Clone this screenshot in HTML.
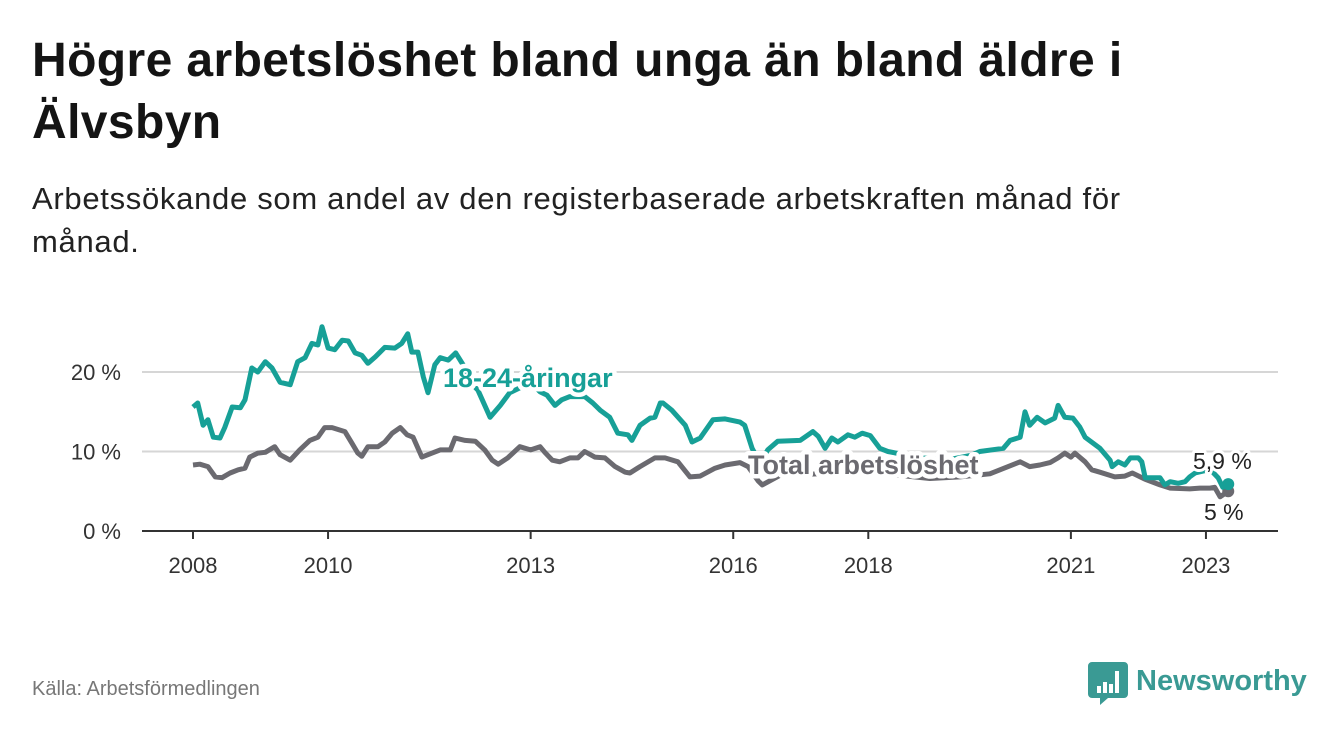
<!DOCTYPE html>
<html><head><meta charset="utf-8"><style>
body{margin:0;width:1340px;height:734px;background:#fff;font-family:"Liberation Sans",sans-serif;overflow:hidden;position:relative}
#title{position:absolute;left:32px;top:30px;width:1200px;font-size:48px;letter-spacing:0.4px;font-weight:bold;line-height:62px;color:#141414;margin:0}
#sub{position:absolute;left:32px;top:177px;width:1250px;font-size:31px;letter-spacing:0.7px;line-height:43px;color:#222;margin:0}
#src{position:absolute;left:32px;top:678px;font-size:20px;color:#777}
svg{position:absolute;left:0;top:0}
</style></head><body>
<h1 id="title">Högre arbetslöshet bland unga än bland äldre i<br>Älvsbyn</h1>
<p id="sub">Arbetssökande som andel av den registerbaserade arbetskraften månad för<br>månad.</p>
<div id="src">Källa: Arbetsförmedlingen</div>
<svg id="chart" width="1340" height="734"></svg>
<script>
const youthDates=[2008.00,2008.07,2008.15,2008.22,2008.30,2008.40,2008.47,2008.58,2008.70,2008.77,2008.87,2008.96,2009.07,2009.17,2009.29,2009.44,2009.55,2009.66,2009.76,2009.85,2009.91,2010.00,2010.10,2010.21,2010.30,2010.40,2010.50,2010.59,2010.70,2010.84,2010.99,2011.09,2011.18,2011.24,2011.33,2011.41,2011.48,2011.58,2011.66,2011.78,2011.89,2012.03,2012.13,2012.22,2012.40,2012.55,2012.69,2012.84,2013.02,2013.14,2013.24,2013.36,2013.46,2013.58,2013.80,2013.92,2014.03,2014.17,2014.29,2014.44,2014.50,2014.62,2014.77,2014.84,2014.92,2014.96,2015.09,2015.29,2015.39,2015.51,2015.70,2015.88,2016.10,2016.17,2016.28,2016.40,2016.51,2016.66,2016.99,2017.06,2017.18,2017.26,2017.36,2017.46,2017.55,2017.70,2017.80,2017.91,2018.03,2018.17,2018.29,2018.77,2019.21,2019.51,2019.65,2020.00,2020.10,2020.25,2020.32,2020.39,2020.50,2020.62,2020.76,2020.81,2020.91,2021.03,2021.13,2021.21,2021.43,2021.58,2021.61,2021.70,2021.80,2021.88,2022.00,2022.05,2022.10,2022.25,2022.32,2022.39,2022.47,2022.59,2022.69,2022.76,2022.84,2022.99,2023.09,2023.18,2023.25,2023.33];
const youthValues=[15.6,16.1,13.3,14,11.8,11.7,13,15.6,15.5,16.5,20.5,20,21.3,20.5,18.7,18.4,21.3,21.8,23.6,23.4,25.7,23,22.8,24,23.9,22.4,22.1,21.1,21.9,23.1,23,23.6,24.8,22.5,22.5,19.4,17.4,20.9,21.8,21.5,22.4,20.5,18.5,17.7,14.3,15.8,17.4,18,18.5,17.5,17.1,15.8,16.5,16.9,16.9,16.1,15.2,14.3,12.3,12.1,11.4,13.3,14.2,14.3,16.1,16.1,15.2,13.3,11.2,11.7,14,14.1,13.7,13.3,10.4,8.5,10.2,11.3,11.4,11.8,12.5,11.9,10.4,11.7,11.2,12.1,11.8,12.3,12,10.4,10,9.2,9,9.5,10,10.4,11.4,11.8,15,13.3,14.3,13.6,14.2,15.8,14.3,14.2,13.1,11.8,10.4,8.9,8.1,8.7,8.3,9.2,9.2,8.7,6.7,6.7,6.7,5.8,6.2,6,6.2,6.8,7.3,7.6,7.5,6.7,5.5,5.9];
const totalDates=[2008.00,2008.10,2008.22,2008.33,2008.43,2008.55,2008.67,2008.77,2008.84,2008.96,2009.07,2009.21,2009.29,2009.44,2009.58,2009.73,2009.85,2009.95,2010.06,2010.25,2010.35,2010.44,2010.50,2010.59,2010.74,2010.84,2010.95,2011.07,2011.17,2011.26,2011.39,2011.54,2011.66,2011.81,2011.88,2012.03,2012.18,2012.32,2012.43,2012.52,2012.66,2012.84,2013.00,2013.14,2013.21,2013.32,2013.43,2013.58,2013.70,2013.80,2013.95,2014.10,2014.25,2014.40,2014.47,2014.62,2014.84,2014.99,2015.18,2015.36,2015.51,2015.73,2015.88,2016.10,2016.22,2016.37,2016.43,2016.69,2017.28,2017.88,2018.47,2018.91,2019.36,2019.80,2020.25,2020.39,2020.54,2020.69,2020.81,2020.91,2021.00,2021.06,2021.21,2021.31,2021.43,2021.65,2021.80,2021.91,2022.10,2022.32,2022.47,2022.76,2022.91,2023.06,2023.13,2023.21,2023.33];
const totalValues=[8.3,8.4,8.1,6.8,6.7,7.3,7.7,7.9,9.3,9.8,9.9,10.6,9.6,8.9,10.2,11.4,11.8,13,13,12.5,11.1,9.8,9.4,10.6,10.6,11.2,12.3,13,12.1,11.8,9.3,9.8,10.2,10.2,11.7,11.4,11.3,10.2,8.9,8.4,9.2,10.6,10.2,10.6,9.9,8.9,8.7,9.2,9.2,10,9.3,9.2,8.1,7.4,7.3,8.1,9.2,9.2,8.7,6.8,6.9,7.9,8.3,8.6,8.1,6.3,5.8,7,7.2,7.3,7,6.6,6.8,7.2,8.7,8.1,8.3,8.6,9.2,9.8,9.3,9.8,8.7,7.7,7.4,6.8,6.9,7.3,6.5,5.8,5.4,5.3,5.4,5.4,5.5,4.3,5];
const yTicks=[0,10,20];
const yTickLabels=["0 %","10 %","20 %"];
const xTicks=[2008,2010,2013,2016,2018,2021,2023];
const svg=document.getElementById('chart');
const NS='http://www.w3.org/2000/svg';
const X=d=>193+(d-2008)*67.53;
const Y=v=>531-v*7.95;
function el(t,a,p){const e=document.createElementNS(NS,t);for(const k in a)e.setAttribute(k,a[k]);(p||svg).appendChild(e);return e;}
yTicks.forEach((v,i)=>{
  if(v>0){const g=el('line',{x1:142,x2:1278,y1:Y(v),y2:Y(v),stroke:'#d6d6d6','stroke-width':2});
  
  }
  const t=el('text',{x:121,y:Y(v)+8,'text-anchor':'end','font-size':22,fill:'#333'});
  t.textContent=yTickLabels[i];
  
  
});
const ax=el('line',{x1:142,x2:1278,y1:531,y2:531,stroke:'#333','stroke-width':2});


xTicks.forEach(y=>{
  const tk=el('line',{x1:X(y),x2:X(y),y1:531,y2:539,stroke:'#333','stroke-width':2});
  
  
  const t=el('text',{x:X(y),y:573,'text-anchor':'middle','font-size':22,fill:'#333'});
  t.textContent=y;
  
  
});
function line(d,v,c,name){
  const p=el('path',{d:d.map((x,i)=>(i?'L':'M')+X(x).toFixed(1)+','+Y(v[i]).toFixed(1)).join(''),fill:'none',stroke:c,'stroke-width':5,'stroke-linejoin':'round'});
  
  
  const n=d.length-1;
  const c2=el('circle',{cx:X(d[n]),cy:Y(v[n]),r:6,fill:c});
  
  
}
line(totalDates,totalValues,'#6b6a70','total-line');
line(youthDates,youthValues,'#17a097','youth-line');
function lab(x,y,txt,c,name,size,bold){
  const t=el('text',{x:x,y:y,'font-size':size,'font-weight':bold?'bold':'normal',fill:c,stroke:'#fff','stroke-width':bold?9:6,'paint-order':'stroke','stroke-linejoin':'round'});
  t.textContent=txt;
  
  
}
lab(443,387,'18-24-åringar','#17a097','youth-series-label',27,true);
lab(748,474,'Total arbetslöshet','#6b6a70','total-series-label',27,true);
lab(1193,469,'5,9 %','#222','youth-end-value',23,false);
lab(1204,520,'5 %','#222','total-end-value',23,false);
const lg=el('g',{});


el('path',{d:'M1092,662 h32 a4,4 0 0 1 4,4 v28 a4,4 0 0 1 -4,4 h-16 l-8,7 v-7 h-8 a4,4 0 0 1 -4,-4 v-28 a4,4 0 0 1 4,-4z',fill:'#3a9a94'},lg);
[[1097,686,4,7],[1103,682,4,11],[1109,684,4,9],[1115,671,4,22]].forEach(r=>el('rect',{x:r[0],y:r[1],width:r[2],height:r[3],fill:'#fff'},lg));
const lt=el('text',{x:1136,y:690,'font-size':29,'font-weight':'bold',fill:'#3a9a94'},lg);
lt.textContent='Newsworthy';
</script>
</body></html>
